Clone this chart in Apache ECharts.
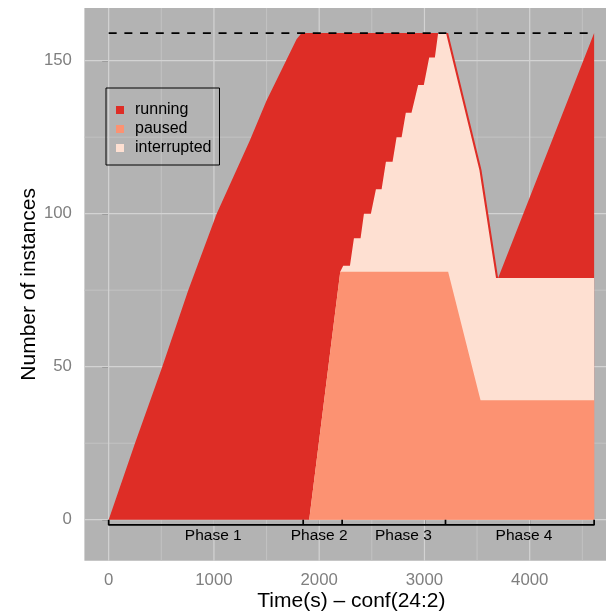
<!DOCTYPE html>
<html>
<head>
<meta charset="utf-8">
<script src="https://cdn.jsdelivr.net/npm/echarts@6/dist/echarts.min.js"></script>
<style>
  html, body { margin: 0; padding: 0; background: #ffffff; }
  #chart { width: 606px; height: 613px; }
</style>
</head>
<body>
<div id="chart"></div>
<script>
// Instance states over time (seconds), counts per state at each time stamp
const times = [
  0, 250, 509, 756, 1026, 1342, 1500, 1785, 1833,
  1905, 2200, 2228, 2292, 2330, 2393, 2425, 2491, 2539, 2593,
  2634, 2697, 2735, 2783, 2823, 2877, 2940, 2994, 3045, 3099,
  3130, 3205, 3225, 3522, 3533, 3542, 3680, 3700, 4612
];
const running = [
  0, 25, 50, 75, 100, 124, 137, 157, 159,
  159, 78, 76, 76, 67, 67, 59, 59, 51, 51,
  42, 42, 34, 34, 26, 26, 17, 17, 8, 8,
  0, 0, 2.8, 2.8, 3.8, 4.5, 4.5, 0, 80
];
const paused = [
  0, 0, 0, 0, 0, 0, 0, 0, 0,
  0, 81, 81, 81, 81, 81, 81, 81, 81, 81,
  81, 81, 81, 81, 81, 81, 81, 81, 81, 81,
  81, 81, 81, 40.5, 39, 39, 39, 39, 39
];
const interrupted = [
  0, 0, 0, 0, 0, 0, 0, 0, 0,
  0, 0, 2, 2, 11, 11, 19, 19, 27, 27,
  36, 36, 44, 44, 52, 52, 61, 61, 70, 70,
  78, 78, 75.2, 73.8, 72.8, 70.8, 40, 40, 40
];

// Capacity reference line and phase markers
const capacity = 159;
const capacityTimes = [0, 4612];
const phaseBounds = [0, 1848, 2218, 3200, 4612];
const phaseBracketLevel = -1.7;
const phaseNames = ['Phase 1', 'Phase 2', 'Phase 3', 'Phase 4'];
const phaseLabelTimes = [994, 2000, 2800, 3946];
const phaseLabelLevel = -5.3;

// Axis ticks
const xTicks = [0, 1000, 2000, 3000, 4000];
const xMinorTicks = [500, 1500, 2500, 3500, 4500];
const yTicks = [0, 50, 100, 150];
const yMinorTicks = [25, 75, 125];

const stateNames = ['running', 'paused', 'interrupted'];
const stateColors = { running: '#DE2D26', paused: '#FC9272', interrupted: '#FEE0D2' };

const FONT = '"Liberation Sans", Arial, Helvetica, sans-serif';

// Cumulative boundaries: paused at the bottom, interrupted above it, running on top
const pausedTop = times.map((t, k) => [t, paused[k]]);
const interruptedTop = times.map((t, k) => [t, paused[k] + interrupted[k]]);
const runningTop = times.map((t, k) => [t, paused[k] + interrupted[k] + running[k]]);

// Bracket path under the areas, with a small upward tick at each phase boundary
const bracket = [];
phaseBounds.forEach((b, k) => {
  if (k === 0) {
    bracket.push([b, 0], [b, phaseBracketLevel]);
  } else if (k === phaseBounds.length - 1) {
    bracket.push([b, phaseBracketLevel], [b, 0]);
  } else {
    bracket.push([b, phaseBracketLevel], [b, 0], [b, phaseBracketLevel]);
  }
});

function areaSeries(name, data, z) {
  return {
    name: name,
    type: 'line',
    data: data,
    z: z,
    color: stateColors[name],
    itemStyle: { color: stateColors[name] },
    lineStyle: { width: 0, opacity: 0 },
    areaStyle: { color: stateColors[name], opacity: 1 },
    showSymbol: false,
    symbol: 'none',
    silent: true,
    animation: false
  };
}

const chart = echarts.init(document.getElementById('chart'), null, { renderer: 'canvas' });

chart.setOption({
  animation: false,
  backgroundColor: '#ffffff',
  grid: {
    left: 84.4, right: -12.4, top: 8, bottom: 52.3,
    outerBoundsMode: 'none',
    containLabel: false,
    show: true, backgroundColor: '#b3b3b3', borderWidth: 0
  },
  xAxis: {
    type: 'value',
    min: -230.6, max: 4842.6,
    name: 'Time(s) \u2013 conf(24:2)',
    nameLocation: 'middle',
    nameGap: 30,
    nameMoveOverlap: false,
    nameTextStyle: { fontSize: 21, color: '#000', fontFamily: FONT },
    axisLine: { show: false },
    axisTick: { show: true, customValues: xTicks, length: 6, lineStyle: { color: '#7f7f7f', width: 1.5 } },
    axisLabel: { customValues: xTicks, formatter: v => String(v), fontSize: 16.8, color: '#7f7f7f', fontFamily: FONT, margin: 11.5 },
    splitLine: { show: false }
  },
  yAxis: {
    type: 'value',
    min: -13.4, max: 167.2,
    name: 'Number of instances',
    nameLocation: 'middle',
    nameGap: 45,
    nameMoveOverlap: false,
    nameTextStyle: { fontSize: 21, color: '#000', fontFamily: FONT },
    axisLine: { show: false },
    axisTick: { show: true, customValues: yTicks, length: 6.5, lineStyle: { color: '#7f7f7f', width: 1.5 } },
    axisLabel: { customValues: yTicks, formatter: v => String(v), fontSize: 16.8, color: '#7f7f7f', fontFamily: FONT, margin: 12.5 },
    splitLine: { show: false }
  },
  legend: {
    data: stateNames,
    orient: 'vertical',
    left: 106, top: 88,
    padding: [14, 8, 9, 10],
    borderColor: '#000', borderWidth: 1,
    backgroundColor: 'transparent',
    icon: 'rect',
    itemWidth: 8, itemHeight: 8, itemGap: 3,
    selectedMode: false,
    textStyle: { fontSize: 16, color: '#000', fontFamily: FONT, padding: [0, 0, 0, 6] }
  },
  series: [
    {
      name: 'panel grid',
      type: 'custom',
      z: 1,
      silent: true,
      data: [[0, 0]],
      renderItem: function (params, api) {
        const cs = params.coordSys;
        const children = [];
        const hLine = (v, color, w) => {
          const y = api.coord([0, v])[1];
          children.push({ type: 'line', shape: { x1: cs.x, y1: y, x2: cs.x + cs.width, y2: y }, style: { stroke: color, lineWidth: w } });
        };
        const vLine = (v, color, w) => {
          const x = api.coord([v, 0])[0];
          children.push({ type: 'line', shape: { x1: x, y1: cs.y, x2: x, y2: cs.y + cs.height }, style: { stroke: color, lineWidth: w } });
        };
        yMinorTicks.forEach(v => hLine(v, '#c4c4c4', 0.9));
        xMinorTicks.forEach(v => vLine(v, '#c4c4c4', 0.9));
        yTicks.forEach(v => hLine(v, '#d3d3d3', 1.2));
        xTicks.forEach(v => vLine(v, '#d3d3d3', 1.2));
        return { type: 'group', children: children };
      }
    },
    areaSeries('running', runningTop, 2),
    areaSeries('interrupted', interruptedTop, 3),
    areaSeries('paused', pausedTop, 4),
    {
      name: 'capacity',
      type: 'line',
      z: 5,
      data: capacityTimes.map(t => [t, capacity]),
      showSymbol: false,
      symbol: 'none',
      silent: true,
      lineStyle: { color: '#000', width: 1.8, type: [8, 7.7] }
    },
    {
      name: 'phases',
      type: 'line',
      z: 5,
      data: bracket,
      showSymbol: false,
      symbol: 'none',
      silent: true,
      clip: false,
      lineStyle: { color: '#000', width: 1.7 }
    },
    {
      name: 'phase labels',
      type: 'custom',
      z: 6,
      silent: true,
      data: phaseLabelTimes.map(t => [t, phaseLabelLevel]),
      renderItem: function (params, api) {
        const p = api.coord([api.value(0), api.value(1)]);
        return {
          type: 'text',
          x: p[0], y: p[1],
          style: {
            text: phaseNames[params.dataIndex],
            align: 'center', verticalAlign: 'middle',
            fill: '#000',
            font: '15.5px ' + FONT
          }
        };
      }
    }
  ]
});
</script>
</body>
</html>
